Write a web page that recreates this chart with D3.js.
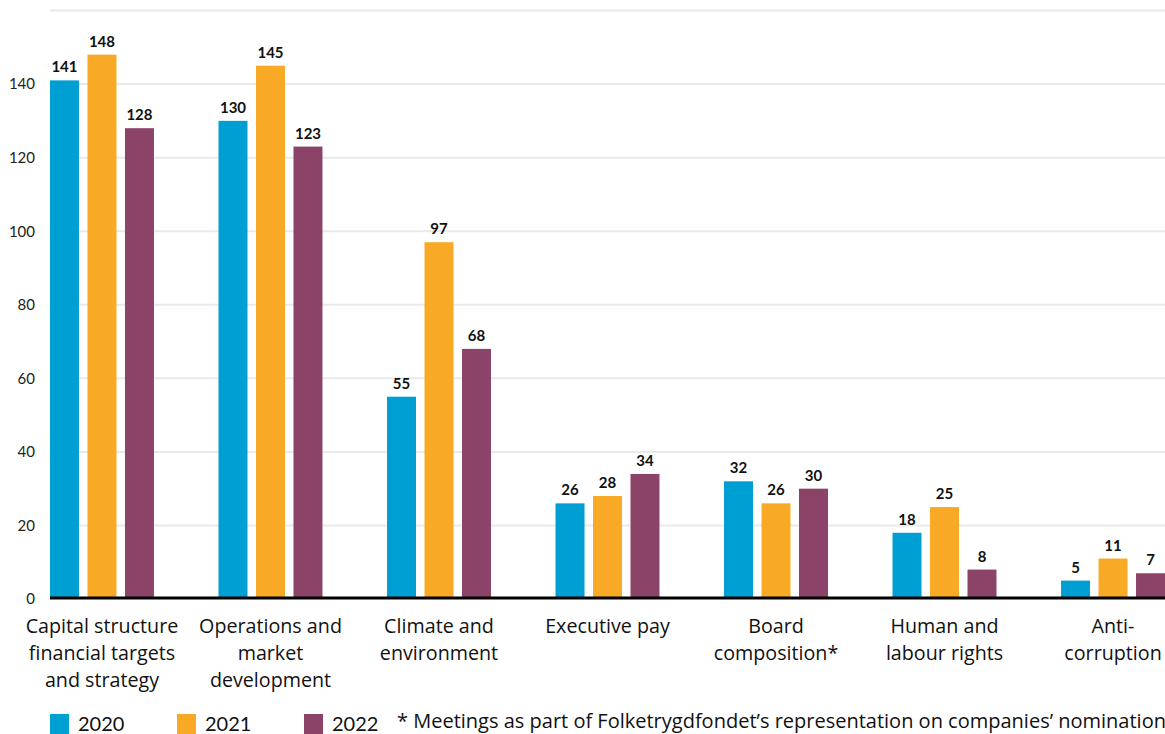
<!DOCTYPE html>
<html><head><meta charset="utf-8">
<script src="https://cdn.jsdelivr.net/npm/d3@7"></script>
<style>
body{margin:0;background:#fff;}
svg{display:block;font-family:Lato, "Open Sans", sans-serif;}
</style></head>
<body><svg id="c" width="1165" height="734"></svg>
<script>
const categories = [
  ["Capital structure","financial targets","and strategy"],
  ["Operations and","market","development"],
  ["Climate and","environment"],
  ["Executive pay"],
  ["Board","composition*"],
  ["Human and","labour rights"],
  ["Anti-","corruption"]
];
const years = ["2020","2021","2022"];
const values2020 = [141,130,55,26,32,18,5];
const values2021 = [148,145,97,28,26,25,11];
const values2022 = [128,123,68,34,30,8,7];
const yTicks = [0,20,40,60,80,100,120,140,160];
const footnote = "* Meetings as part of Folketrygdfondet\u2019s representation on companies\u2019 nomination";
const colors = ["#009fd3","#f8a926","#8b4467"];

const series = [values2020, values2021, values2022];
const svg = d3.select("#c");
const pLeft = 50, pRight = 1165, pTop = 10.5, pBottom = 599;
const labelFont = "'Open Sans', sans-serif";

const y = d3.scaleLinear().domain([0,160]).range([pBottom, pTop]);
const x0 = d3.scaleBand().domain(d3.range(categories.length)).range([pLeft,pRight]).paddingInner(0.383).paddingOuter(0);
const x1 = d3.scaleBand().domain(years).range([0,x0.bandwidth()]).paddingInner(0.227).paddingOuter(0);

// gridlines
svg.append("g").selectAll("line").data(yTicks.filter(d=>d>0)).join("line")
  .attr("x1",pLeft).attr("x2",pRight).attr("y1",d=>y(d)).attr("y2",d=>y(d))
  .attr("stroke","#e9e9e9").attr("stroke-width",2);

// y axis labels
const yAxis = d3.axisLeft(y).tickValues(yTicks.filter(d=>d<160)).tickSize(0).tickPadding(0);
const ga = svg.append("g").attr("transform",`translate(35,0)`).call(yAxis);
ga.select(".domain").remove();
ga.selectAll("text").attr("font-size",15).attr("fill","#222").attr("font-family","Lato, sans-serif");

// bars
const groups = svg.append("g").selectAll("g").data(categories).join("g")
  .attr("transform",(d,i)=>`translate(${x0(i)},0)`);
groups.each(function(c,i){
  const g = d3.select(this);
  years.forEach((yr,j)=>{
    const v = series[j][i];
    g.append("rect").attr("x",x1(yr)).attr("width",x1.bandwidth())
      .attr("y",y(v)).attr("height",pBottom-y(v)).attr("fill",colors[j]);
    g.append("text").attr("x",x1(yr)+x1.bandwidth()/2).attr("y",y(v)-8)
      .attr("text-anchor","middle").attr("font-size",15).attr("font-weight",700)
      .attr("fill","#111").text(v);
  });
  c.forEach((line,k)=>{
    g.append("text").attr("x",x0.bandwidth()/2).attr("y",633+k*27)
      .attr("text-anchor","middle").attr("font-size",19.7).attr("font-family",labelFont)
      .attr("fill","#111").text(line);
  });
});

// baseline
svg.append("line").attr("x1",pLeft).attr("x2",pRight).attr("y1",pBottom-1).attr("y2",pBottom-1)
  .attr("stroke","#000").attr("stroke-width",3);

// legend
const legX = [50,177,304];
years.forEach((yr,j)=>{
  svg.append("rect").attr("x",legX[j]).attr("y",714).attr("width",19).attr("height",20).attr("fill",colors[j]);
  svg.append("text").attr("x",legX[j]+28).attr("y",731).attr("font-size",20).attr("fill","#111").text(yr);
});
svg.append("text").attr("x",397).attr("y",728).attr("font-size",20).attr("font-family",labelFont)
  .attr("fill","#111").text(footnote);
</script></body></html>
